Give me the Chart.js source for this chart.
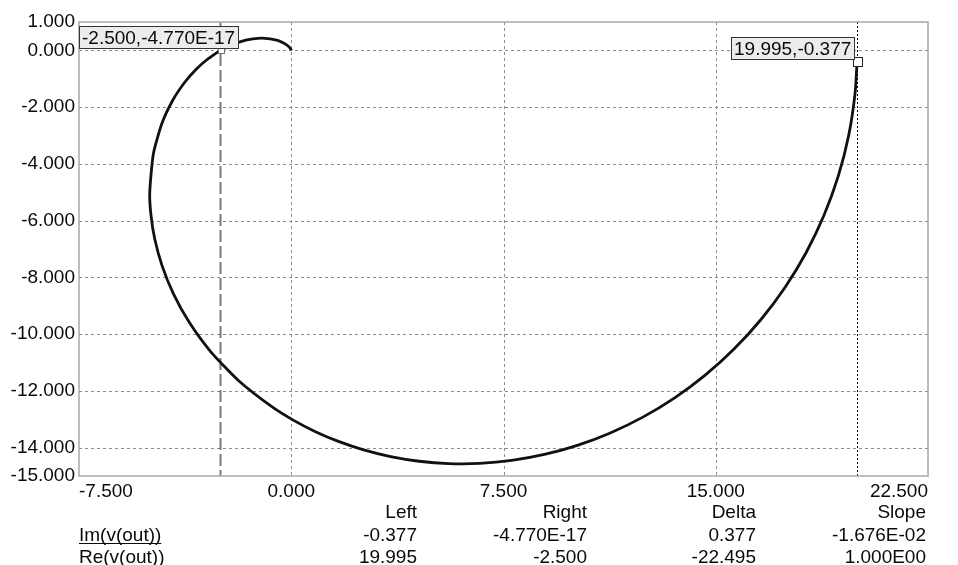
<!DOCTYPE html>
<html>
<head>
<meta charset="utf-8">
<script src="https://cdn.jsdelivr.net/npm/chart.js@4/dist/chart.umd.min.js"></script>
<style>
  html, body { margin: 0; padding: 0; background: #fff; }
  #wrap { width: 958px; height: 565px; }
</style>
</head>
<body>
<div id="wrap"><canvas id="nyquist" width="958" height="565"></canvas></div>
<script>
(function(){
  'use strict';

  // Re(v(out)) / Im(v(out)), in sweep order
  const reOut = [19.995, 19.925, 19.702, 19.334, 18.829, 18.196, 17.446, 16.591, 15.646, 14.627,
    13.548, 12.425, 11.274, 10.109, 8.944, 7.792, 6.663, 5.568, 4.515, 3.510,
    2.560, 1.668, 0.837, 0.069, -0.636, -1.859, -2.842, -3.604, -4.171, -4.569,
    -4.823, -4.959, -5.000, -4.873, -4.571, -4.182, -3.763, -3.350, -2.961, -2.606,
    -2.500, -2.288, -1.760, -1.358, -0.932, -0.520, -0.307, -0.191, -0.084, -0.023,
    -0.006, 0.000];
  const imOut = [-0.377, -1.497, -2.975, -4.417, -5.804, -7.122, -8.356, -9.494, -10.526, -11.445,
    -12.245, -12.925, -13.482, -13.920, -14.241, -14.451, -14.556, -14.563, -14.480, -14.316,
    -14.080, -13.781, -13.428, -13.030, -12.594, -11.641, -10.623, -9.585, -8.561, -7.576,
    -6.648, -5.787, -5.000, -3.648, -2.577, -1.750, -1.123, -0.655, -0.312, -0.064,
    0.000, 0.113, 0.320, 0.406, 0.426, 0.360, 0.278, 0.212, 0.125, 0.052,
    0.019, 0.000];

  const xTicks = [-7.5, 0, 7.5, 15, 22.5];
  const yTicks = [1, 0, -2, -4, -6, -8, -10, -12, -14, -15];

  // cursors: left = 19.995 (dotted black), right = -2.5 (dashed gray)
  const cursorLeft = { x: 19.995, y: -0.377, label: '19.995,-0.377' };
  const cursorRight = { x: -2.5, y: 0, label: '-2.500,-4.770E-17' };

  const tableHeads = ['Left', 'Right', 'Delta', 'Slope'];
  const tableRows = ['Im(v(out))', 'Re(v(out))'];
  const tableImVals = ['-0.377', '-4.770E-17', '0.377', '-1.676E-02'];
  const tableReVals = ['19.995', '-2.500', '-22.495', '1.000E00'];

  const FAMILY = '"Liberation Sans", Arial, sans-serif';
  const FONT = '19px ' + FAMILY;
  const INK = '#0a0a0a';

  const points = reOut.map((r, i) => ({ x: r, y: imOut[i] }));

  const gridAndCursors = {
    id: 'gridAndCursors',
    beforeDatasetsDraw(chart) {
      const { ctx, chartArea: a, scales: { x, y } } = chart;
      ctx.save();
      ctx.strokeStyle = '#8c8c8c';
      ctx.lineWidth = 1;
      ctx.setLineDash([3, 3]);
      yTicks.slice(1, -1).forEach(v => {
        const py = Math.round(y.getPixelForValue(v)) + 0.5;
        ctx.beginPath(); ctx.moveTo(a.left, py); ctx.lineTo(a.right, py); ctx.stroke();
      });
      xTicks.slice(1, -1).forEach(v => {
        const px = Math.round(x.getPixelForValue(v)) + 0.5;
        ctx.beginPath(); ctx.moveTo(px, a.top); ctx.lineTo(px, a.bottom); ctx.stroke();
      });

      // right cursor, gray long dashes
      let px = x.getPixelForValue(cursorRight.x);
      ctx.strokeStyle = '#7a7a7a';
      ctx.lineWidth = 2;
      ctx.setLineDash([12, 4]);
      ctx.beginPath(); ctx.moveTo(px, a.top); ctx.lineTo(px, a.bottom); ctx.stroke();

      // left cursor, black dots
      px = Math.round(x.getPixelForValue(cursorLeft.x)) + 0.5;
      ctx.strokeStyle = '#000';
      ctx.lineWidth = 1;
      ctx.setLineDash([2, 2]);
      ctx.beginPath(); ctx.moveTo(px, a.top); ctx.lineTo(px, a.bottom); ctx.stroke();

      // frame
      ctx.setLineDash([]);
      ctx.strokeStyle = '#a8a8a8';
      ctx.lineWidth = 1.5;
      ctx.strokeRect(a.left, a.top, a.right - a.left, a.bottom - a.top);
      ctx.restore();
    },
    afterDatasetsDraw(chart) {
      const { ctx, chartArea: a, scales: { x, y } } = chart;
      ctx.save();
      ctx.font = FONT;
      ctx.textBaseline = 'alphabetic';
      [cursorRight, cursorLeft].forEach((c, k) => {
        const px = x.getPixelForValue(c.x);
        const py = y.getPixelForValue(c.y);
        // marker square
        const s = k === 0 ? 6 : 9;
        ctx.fillStyle = '#fff';
        ctx.strokeStyle = k === 0 ? '#777' : '#222';
        ctx.lineWidth = 1;
        ctx.fillRect(Math.round(px - s / 2) + 0.5, Math.round(py - s / 2) + 0.5, s, s);
        ctx.strokeRect(Math.round(px - s / 2) + 0.5, Math.round(py - s / 2) + 0.5, s, s);
        // label box
        const w = ctx.measureText(c.label).width + 6;
        const h = 22;
        let bx = px - 3 - w;
        if (bx < a.left) bx = a.left;
        const by = py - 2 - h;
        ctx.fillStyle = '#ececec';
        ctx.fillRect(Math.round(bx) + 0.5, Math.round(by) + 0.5, Math.round(w), h);
        ctx.strokeStyle = '#333';
        ctx.strokeRect(Math.round(bx) + 0.5, Math.round(by) + 0.5, Math.round(w), h);
        ctx.fillStyle = INK;
        ctx.textAlign = 'left';
        ctx.fillText(c.label, Math.round(bx) + 3, Math.round(by) + 18);
      });

      // cursor read-out table under the plot
      const colRight = [417, 587, 756, 926];
      const base = [518, 541, 563];
      ctx.fillStyle = INK;
      ctx.textAlign = 'right';
      tableHeads.forEach((t, i) => ctx.fillText(t, colRight[i], base[0]));
      tableImVals.forEach((t, i) => ctx.fillText(t, colRight[i], base[1]));
      tableReVals.forEach((t, i) => ctx.fillText(t, colRight[i], base[2]));
      ctx.textAlign = 'left';
      ctx.fillText(tableRows[0], a.left, base[1]);
      ctx.fillText(tableRows[1], a.left, base[2]);
      const uw = ctx.measureText(tableRows[0]).width;
      ctx.strokeStyle = INK;
      ctx.lineWidth = 1;
      ctx.beginPath(); ctx.moveTo(a.left, base[1] + 2.5); ctx.lineTo(a.left + uw, base[1] + 2.5); ctx.stroke();
      ctx.restore();
    }
  };

  new Chart(document.getElementById('nyquist'), {
    type: 'scatter',
    data: {
      datasets: [{
        data: points,
        showLine: true,
        borderColor: '#111',
        borderWidth: 2.8,
        pointRadius: 0,
        tension: 0.2,
        fill: false
      }]
    },
    options: {
      responsive: false,
      animation: false,
      layout: { padding: { top: 22, right: 30, left: 0, bottom: 0 } },
      plugins: { legend: { display: false }, tooltip: { enabled: false } },
      scales: {
        x: {
          type: 'linear',
          min: -7.5,
          max: 22.5,
          afterBuildTicks: s => { s.ticks = xTicks.map(v => ({ value: v })); },
          afterFit: s => { s.height = 89; },
          grid: { display: false, drawTicks: false },
          border: { display: false },
          ticks: {
            align: 'inner',
            padding: 4,
            color: INK,
            font: { family: FAMILY, size: 19 },
            maxRotation: 0,
            callback: v => v.toFixed(3)
          }
        },
        y: {
          type: 'linear',
          min: -15,
          max: 1,
          afterBuildTicks: s => { s.ticks = yTicks.map(v => ({ value: v })); },
          afterFit: s => { s.width = 79; },
          grid: { display: false, drawTicks: false },
          border: { display: false },
          ticks: {
            padding: 4,
            color: INK,
            font: { family: FAMILY, size: 19 },
            callback: v => v.toFixed(3)
          }
        }
      }
    },
    plugins: [gridAndCursors]
  });
})();
</script>
</body>
</html>
